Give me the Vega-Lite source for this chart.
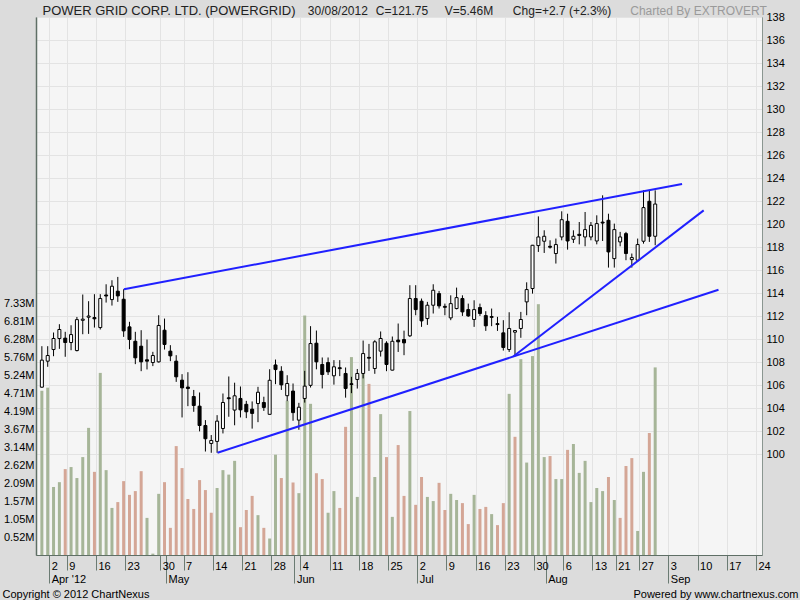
{
  "$schema": "https://vega.github.io/schema/vega-lite/v6.json",
  "width": 726,
  "height": 538,
  "autosize": {"type": "none"},
  "padding": {"left": 36, "top": 17, "right": 38, "bottom": 45},
  "background": "#dcdcdc",
  "config": {
    "view": {"fill": "#f5f5f5", "stroke": "#8a9690", "strokeWidth": 1},
    "axis": {"labelFont": "Liberation Sans", "labelFontSize": 11, "labelColor": "#000000", "titleFont": "Liberation Sans", "titleFontWeight": "normal", "titleFontSize": 11, "titleColor": "#000000"}
  },
  "datasets": {
    "candles": [
      {"i":-1,"date":"2012-03-30","o":105.84,"h":109.40,"l":105.80,"c":108.19,"v":4.78,"vd":"up"},
      {"i":0,"date":"2012-04-02","o":108.10,"h":109.40,"l":107.61,"c":108.59,"v":4.87,"vd":"up"},
      {"i":1,"date":"2012-04-03","o":109.11,"h":110.59,"l":108.53,"c":110.07,"v":1.98,"vd":"up"},
      {"i":2,"date":"2012-04-04","o":110.07,"h":111.31,"l":109.17,"c":110.85,"v":2.12,"vd":"up"},
      {"i":3,"date":"2012-04-09","o":110.10,"h":110.65,"l":108.48,"c":109.72,"v":2.50,"vd":"down"},
      {"i":4,"date":"2012-04-10","o":109.72,"h":111.22,"l":109.05,"c":110.41,"v":2.56,"vd":"up"},
      {"i":5,"date":"2012-04-11","o":109.02,"h":111.94,"l":108.95,"c":111.71,"v":2.24,"vd":"up"},
      {"i":6,"date":"2012-04-12","o":111.65,"h":113.89,"l":110.44,"c":111.75,"v":2.85,"vd":"up"},
      {"i":7,"date":"2012-04-13","o":111.92,"h":113.31,"l":110.47,"c":112.02,"v":3.70,"vd":"up"},
      {"i":8,"date":"2012-04-16","o":111.89,"h":113.92,"l":111.02,"c":111.78,"v":2.42,"vd":"down"},
      {"i":9,"date":"2012-04-17","o":111.02,"h":113.92,"l":110.85,"c":113.54,"v":5.30,"vd":"up"},
      {"i":10,"date":"2012-04-18","o":113.85,"h":114.78,"l":113.19,"c":113.76,"v":2.47,"vd":"up"},
      {"i":11,"date":"2012-04-19","o":113.45,"h":115.13,"l":112.93,"c":114.61,"v":1.37,"vd":"up"},
      {"i":12,"date":"2012-04-20","o":114.18,"h":115.42,"l":113.25,"c":113.77,"v":1.54,"vd":"down"},
      {"i":13,"date":"2012-04-23","o":113.48,"h":114.35,"l":110.21,"c":110.73,"v":2.15,"vd":"down"},
      {"i":14,"date":"2012-04-24","o":111.08,"h":111.52,"l":109.14,"c":109.98,"v":1.75,"vd":"down"},
      {"i":15,"date":"2012-04-25","o":109.83,"h":110.65,"l":107.84,"c":108.39,"v":1.86,"vd":"down"},
      {"i":16,"date":"2012-04-26","o":109.40,"h":110.79,"l":107.23,"c":108.04,"v":2.44,"vd":"down"},
      {"i":17,"date":"2012-04-27","o":108.22,"h":109.98,"l":107.38,"c":108.10,"v":1.08,"vd":"up"},
      {"i":18,"date":"2012-04-28","o":107.98,"h":108.91,"l":107.67,"c":108.59,"v":0.04,"vd":"up"},
      {"i":19,"date":"2012-04-30","o":108.04,"h":112.09,"l":107.98,"c":111.20,"v":1.78,"vd":"up"},
      {"i":20,"date":"2012-05-02","o":110.79,"h":111.80,"l":109.11,"c":109.55,"v":2.12,"vd":"down"},
      {"i":21,"date":"2012-05-03","o":108.97,"h":109.49,"l":108.10,"c":108.56,"v":0.79,"vd":"down"},
      {"i":22,"date":"2012-05-04","o":108.10,"h":108.62,"l":106.30,"c":106.74,"v":3.17,"vd":"down"},
      {"i":23,"date":"2012-05-07","o":106.45,"h":106.97,"l":103.21,"c":105.78,"v":2.53,"vd":"down"},
      {"i":24,"date":"2012-05-08","o":105.85,"h":107.14,"l":104.19,"c":105.72,"v":1.63,"vd":"down"},
      {"i":25,"date":"2012-05-09","o":105.03,"h":105.60,"l":103.70,"c":104.25,"v":1.34,"vd":"down"},
      {"i":26,"date":"2012-05-10","o":104.19,"h":105.38,"l":102.00,"c":102.51,"v":2.18,"vd":"down"},
      {"i":27,"date":"2012-05-11","o":102.51,"h":102.98,"l":100.25,"c":101.36,"v":1.89,"vd":"down"},
      {"i":28,"date":"2012-05-14","o":100.95,"h":101.68,"l":100.14,"c":101.21,"v":1.23,"vd":"down"},
      {"i":29,"date":"2012-05-15","o":101.13,"h":103.41,"l":100.14,"c":102.89,"v":1.95,"vd":"up"},
      {"i":30,"date":"2012-05-16","o":102.25,"h":105.29,"l":101.82,"c":104.51,"v":2.47,"vd":"up"},
      {"i":31,"date":"2012-05-17","o":104.92,"h":106.77,"l":103.27,"c":104.84,"v":2.34,"vd":"up"},
      {"i":32,"date":"2012-05-18","o":103.85,"h":106.23,"l":102.53,"c":105.09,"v":2.74,"vd":"up"},
      {"i":33,"date":"2012-05-21","o":104.86,"h":105.90,"l":103.21,"c":103.87,"v":0.81,"vd":"down"},
      {"i":34,"date":"2012-05-22","o":104.35,"h":104.65,"l":103.15,"c":103.70,"v":1.31,"vd":"down"},
      {"i":35,"date":"2012-05-23","o":103.93,"h":104.60,"l":102.24,"c":103.56,"v":1.72,"vd":"down"},
      {"i":36,"date":"2012-05-24","o":104.42,"h":105.87,"l":102.80,"c":105.40,"v":1.16,"vd":"up"},
      {"i":37,"date":"2012-05-25","o":104.51,"h":105.01,"l":103.78,"c":104.08,"v":0.79,"vd":"down"},
      {"i":38,"date":"2012-05-28","o":103.48,"h":107.40,"l":103.48,"c":106.44,"v":0.48,"vd":"up"},
      {"i":39,"date":"2012-05-29","o":107.77,"h":108.24,"l":106.10,"c":107.37,"v":2.92,"vd":"up"},
      {"i":40,"date":"2012-05-30","o":107.22,"h":107.66,"l":105.60,"c":106.04,"v":2.24,"vd":"down"},
      {"i":41,"date":"2012-05-31","o":105.10,"h":106.88,"l":104.63,"c":106.16,"v":4.49,"vd":"up"},
      {"i":42,"date":"2012-06-01","o":105.50,"h":106.16,"l":102.92,"c":103.63,"v":2.11,"vd":"down"},
      {"i":43,"date":"2012-06-04","o":102.98,"h":104.48,"l":102.14,"c":104.10,"v":1.80,"vd":"up"},
      {"i":44,"date":"2012-06-05","o":104.86,"h":107.26,"l":104.50,"c":105.93,"v":6.97,"vd":"up"},
      {"i":45,"date":"2012-06-06","o":106.00,"h":111.14,"l":105.81,"c":109.63,"v":4.40,"vd":"up"},
      {"i":46,"date":"2012-06-07","o":109.66,"h":110.76,"l":107.39,"c":108.04,"v":2.38,"vd":"down"},
      {"i":47,"date":"2012-06-08","o":107.81,"h":108.42,"l":105.73,"c":106.94,"v":2.21,"vd":"down"},
      {"i":48,"date":"2012-06-11","o":107.98,"h":108.42,"l":106.90,"c":107.17,"v":1.23,"vd":"up"},
      {"i":49,"date":"2012-06-12","o":106.83,"h":108.19,"l":106.06,"c":107.61,"v":1.86,"vd":"up"},
      {"i":50,"date":"2012-06-13","o":107.53,"h":108.19,"l":106.80,"c":107.45,"v":1.37,"vd":"down"},
      {"i":51,"date":"2012-06-14","o":107.03,"h":107.55,"l":104.93,"c":105.73,"v":3.73,"vd":"down"},
      {"i":52,"date":"2012-06-15","o":106.14,"h":106.74,"l":105.32,"c":106.07,"v":5.76,"vd":"up"},
      {"i":53,"date":"2012-06-18","o":106.51,"h":107.42,"l":105.72,"c":107.03,"v":1.69,"vd":"up"},
      {"i":54,"date":"2012-06-19","o":107.03,"h":109.89,"l":106.60,"c":108.76,"v":5.27,"vd":"up"},
      {"i":55,"date":"2012-06-20","o":108.43,"h":109.60,"l":107.25,"c":108.36,"v":4.98,"vd":"down"},
      {"i":56,"date":"2012-06-21","o":107.46,"h":109.92,"l":107.00,"c":109.78,"v":2.27,"vd":"up"},
      {"i":57,"date":"2012-06-22","o":108.97,"h":110.68,"l":108.50,"c":110.07,"v":4.10,"vd":"up"},
      {"i":58,"date":"2012-06-25","o":109.66,"h":109.83,"l":107.23,"c":107.81,"v":2.85,"vd":"down"},
      {"i":59,"date":"2012-06-26","o":107.32,"h":110.24,"l":107.30,"c":109.83,"v":1.11,"vd":"up"},
      {"i":60,"date":"2012-06-27","o":109.93,"h":111.37,"l":108.90,"c":109.78,"v":3.20,"vd":"down"},
      {"i":61,"date":"2012-06-28","o":109.98,"h":110.75,"l":108.62,"c":109.69,"v":1.72,"vd":"down"},
      {"i":62,"date":"2012-06-29","o":110.30,"h":114.70,"l":110.21,"c":113.54,"v":4.19,"vd":"up"},
      {"i":63,"date":"2012-07-02","o":113.54,"h":114.70,"l":112.09,"c":112.58,"v":1.46,"vd":"down"},
      {"i":64,"date":"2012-07-03","o":113.31,"h":113.54,"l":111.08,"c":111.60,"v":2.27,"vd":"down"},
      {"i":65,"date":"2012-07-04","o":111.80,"h":113.25,"l":111.25,"c":112.96,"v":1.69,"vd":"up"},
      {"i":66,"date":"2012-07-05","o":112.96,"h":114.78,"l":112.24,"c":114.26,"v":1.57,"vd":"up"},
      {"i":67,"date":"2012-07-06","o":113.97,"h":114.20,"l":112.67,"c":112.90,"v":2.10,"vd":"down"},
      {"i":68,"date":"2012-07-09","o":112.86,"h":113.10,"l":112.09,"c":112.78,"v":1.31,"vd":"down"},
      {"i":69,"date":"2012-07-10","o":111.86,"h":113.82,"l":111.66,"c":113.10,"v":1.78,"vd":"up"},
      {"i":70,"date":"2012-07-11","o":112.67,"h":114.49,"l":112.60,"c":113.62,"v":1.60,"vd":"up"},
      {"i":71,"date":"2012-07-12","o":113.54,"h":113.82,"l":112.03,"c":112.38,"v":1.51,"vd":"down"},
      {"i":72,"date":"2012-07-13","o":112.58,"h":113.10,"l":111.95,"c":112.03,"v":0.90,"vd":"down"},
      {"i":73,"date":"2012-07-16","o":111.72,"h":113.39,"l":111.08,"c":112.58,"v":1.75,"vd":"up"},
      {"i":74,"date":"2012-07-17","o":112.76,"h":113.10,"l":112.03,"c":112.24,"v":1.34,"vd":"down"},
      {"i":75,"date":"2012-07-18","o":112.06,"h":112.44,"l":110.73,"c":111.17,"v":1.40,"vd":"down"},
      {"i":76,"date":"2012-07-19","o":111.90,"h":112.67,"l":111.14,"c":111.98,"v":1.19,"vd":"up"},
      {"i":77,"date":"2012-07-20","o":111.36,"h":111.95,"l":110.73,"c":111.28,"v":0.87,"vd":"down"},
      {"i":78,"date":"2012-07-23","o":110.56,"h":111.66,"l":109.02,"c":109.29,"v":1.51,"vd":"down"},
      {"i":79,"date":"2012-07-24","o":109.11,"h":112.35,"l":108.90,"c":110.94,"v":4.69,"vd":"up"},
      {"i":80,"date":"2012-07-25","o":110.62,"h":110.80,"l":108.53,"c":110.76,"v":3.44,"vd":"down"},
      {"i":81,"date":"2012-07-26","o":110.94,"h":112.38,"l":110.13,"c":111.72,"v":5.70,"vd":"up"},
      {"i":82,"date":"2012-07-27","o":113.25,"h":114.95,"l":112.09,"c":114.32,"v":2.69,"vd":"up"},
      {"i":83,"date":"2012-07-30","o":114.41,"h":118.20,"l":113.97,"c":118.17,"v":5.79,"vd":"up"},
      {"i":84,"date":"2012-07-31","o":118.14,"h":120.68,"l":117.59,"c":118.89,"v":7.30,"vd":"up"},
      {"i":85,"date":"2012-08-01","o":118.52,"h":119.47,"l":117.50,"c":118.95,"v":2.85,"vd":"up"},
      {"i":86,"date":"2012-08-02","o":118.08,"h":118.60,"l":117.88,"c":118.00,"v":2.88,"vd":"down"},
      {"i":87,"date":"2012-08-03","o":117.45,"h":118.75,"l":116.58,"c":118.23,"v":2.21,"vd":"up"},
      {"i":88,"date":"2012-08-06","o":118.89,"h":121.12,"l":118.60,"c":120.39,"v":2.21,"vd":"up"},
      {"i":89,"date":"2012-08-07","o":120.25,"h":120.91,"l":117.79,"c":118.54,"v":3.06,"vd":"down"},
      {"i":90,"date":"2012-08-08","o":118.69,"h":119.47,"l":118.37,"c":118.95,"v":3.23,"vd":"up"},
      {"i":91,"date":"2012-08-09","o":119.12,"h":120.19,"l":118.25,"c":119.02,"v":2.39,"vd":"up"},
      {"i":92,"date":"2012-08-10","o":118.89,"h":121.06,"l":118.08,"c":119.53,"v":2.74,"vd":"up"},
      {"i":93,"date":"2012-08-13","o":118.89,"h":120.19,"l":118.60,"c":119.90,"v":1.54,"vd":"up"},
      {"i":94,"date":"2012-08-14","o":118.54,"h":120.77,"l":118.25,"c":120.05,"v":1.95,"vd":"up"},
      {"i":95,"date":"2012-08-16","o":120.18,"h":122.51,"l":118.54,"c":120.10,"v":1.86,"vd":"up"},
      {"i":96,"date":"2012-08-17","o":120.34,"h":120.91,"l":116.23,"c":117.59,"v":2.27,"vd":"down"},
      {"i":97,"date":"2012-08-21","o":117.01,"h":120.05,"l":116.23,"c":119.53,"v":1.60,"vd":"up"},
      {"i":98,"date":"2012-08-22","o":118.46,"h":119.33,"l":118.08,"c":118.89,"v":1.08,"vd":"down"},
      {"i":99,"date":"2012-08-23","o":119.18,"h":119.33,"l":116.87,"c":117.45,"v":2.59,"vd":"down"},
      {"i":100,"date":"2012-08-24","o":116.92,"h":117.45,"l":116.23,"c":117.10,"v":2.82,"vd":"down"},
      {"i":101,"date":"2012-08-27","o":116.87,"h":118.75,"l":116.72,"c":118.23,"v":0.70,"vd":"up"},
      {"i":102,"date":"2012-08-28","o":118.52,"h":122.94,"l":118.31,"c":121.44,"v":2.42,"vd":"up"},
      {"i":103,"date":"2012-08-29","o":121.99,"h":122.94,"l":118.46,"c":118.95,"v":3.55,"vd":"down"},
      {"i":104,"date":"2012-08-30","o":118.95,"h":122.94,"l":118.17,"c":121.75,"v":5.46,"vd":"up"}
    ],
    "trend": [
      {"line":"upper","i":13.05,"p":114.35},
      {"line":"upper","i":108.6,"p":123.5},
      {"line":"lower","i":29.07,"p":100.14},
      {"line":"lower","i":114.84,"p":114.3},
      {"line":"steep","i":79.7,"p":108.5},
      {"line":"steep","i":112.3,"p":121.2}
    ]
  },
  "layer": [
    {
      "data": {"name": "candles"},
      "mark": {"type": "bar", "width": 3, "clip": true},
      "encoding": {
        "x": {
          "field": "i", "type": "quantitative",
          "scale": {"domain": [-1.148, 121.43], "nice": false, "zero": false},
          "axis": {
            "orient": "bottom",
            "values": [0.25,3.25,8.25,13.25,19.25,20.25,23.25,28.25,33.25,38.25,42.25,43.25,48.25,53.25,58.25,63.25,68.25,73.25,78.25,83.25,85.25,88.25,93.25,97.25,101.25,106.25,111.25,116.25,121.25],
            "labelExpr": "[['2','9','16','23','30','','7','14','21','28','','4','11','18','25','2','9','16','23','30','','6','13','21','27','3','10','17','24'][indexof([0.25,3.25,8.25,13.25,19.25,20.25,23.25,28.25,33.25,38.25,42.25,43.25,48.25,53.25,58.25,63.25,68.25,73.25,78.25,83.25,85.25,88.25,93.25,97.25,101.25,106.25,111.25,116.25,121.25], datum.value)], [\"Apr '12\",'','','','','May','','','','','Jun','','','','','Jul','','','','','Aug','','','','','Sep','','',''][indexof([0.25,3.25,8.25,13.25,19.25,20.25,23.25,28.25,33.25,38.25,42.25,43.25,48.25,53.25,58.25,63.25,68.25,73.25,78.25,83.25,85.25,88.25,93.25,97.25,101.25,106.25,111.25,116.25,121.25], datum.value)]]",
            "labelAlign": "left",
            "labelBaseline": "top",
            "labelOffset": 2,
            "labelLineHeight": 13,
            "labelOverlap": false,
            "labelBound": false,
            "labelFlush": false,
            "tickSize": {"condition": {"test": "indexof([0.25,20.25,42.25,63.25,85.25,106.25], datum.value) >= 0", "value": 28}, "value": 15},
            "labelPadding": {"condition": {"test": "indexof([0.25,20.25,42.25,63.25,85.25,106.25], datum.value) >= 0", "value": -23}, "value": -10},
            "tickColor": "#6b7b73",
            "domainColor": "#5f6f66",
            "grid": true,
            "gridColor": "#e3e3e3",
            "gridOpacity": {"condition": {"test": "indexof([20.25,42.25,85.25], datum.value) >= 0", "value": 0}, "value": 1},
            "title": "Copyright © 2012 ChartNexus",
            "titleX": -34,
            "titleY": 42,
            "titleAlign": "left",
            "titleBaseline": "alphabetic",
            "titleAnchor": "start"
          }
        },
        "y": {
          "field": "v", "type": "quantitative",
          "scale": {"domain": [0, 15.658], "nice": false},
          "axis": {
            "orient": "left",
            "values": [0.5236,1.0472,1.5708,2.0944,2.618,3.1416,3.6652,4.1888,4.7124,5.236,5.7596,6.2832,6.8068,7.3304],
            "labelExpr": "format(datum.value, '.2f') + 'M'",
            "ticks": false,
            "labelPadding": 2,
            "domainColor": "#5f6f66",
            "domainWidth": 1.5,
            "grid": false,
            "title": "Powered by www.chartnexus.com",
            "titleAngle": 0,
            "titleX": 762,
            "titleY": 580,
            "titleAlign": "right",
            "titleBaseline": "alphabetic"
          }
        },
        "color": {
          "field": "vd", "type": "nominal",
          "scale": {"domain": ["up", "down"], "range": ["#a6b598", "#d4a696"]},
          "legend": null
        }
      }
    },
    {
      "data": {"name": "candles"},
      "mark": {"type": "rule", "color": "#000000", "strokeWidth": 1, "clip": true},
      "encoding": {
        "x": {"field": "i", "type": "quantitative", "scale": {"domain": [-1.148, 121.43], "nice": false, "zero": false}, "axis": null},
        "y": {
          "field": "l", "type": "quantitative",
          "scale": {"domain": [91.26, 138], "nice": false, "zero": false},
          "axis": {
            "orient": "right",
            "values": [100,102,104,106,108,110,112,114,116,118,120,122,124,126,128,130,132,134,136,138],
            "ticks": false,
            "labelPadding": 4,
            "domainColor": "#8a9690",
            "grid": true,
            "gridColor": "#e3e3e3",
            "labelOverlap": false,
            "labelBound": false,
            "labelFlush": false,
            "title": null
          }
        },
        "y2": {"field": "h"}
      }
    },
    {
      "data": {"name": "candles"},
      "mark": {"type": "bar", "width": 3, "stroke": "#000000", "strokeWidth": 1, "clip": true},
      "encoding": {
        "x": {"field": "i", "type": "quantitative", "scale": {"domain": [-1.148, 121.43], "nice": false, "zero": false}, "axis": null},
        "y": {"field": "o", "type": "quantitative", "scale": {"domain": [91.26, 138], "nice": false, "zero": false}, "axis": null},
        "y2": {"field": "c"},
        "fill": {"condition": {"test": "datum.c >= datum.o", "value": "#ffffff"}, "value": "#000000"}
      }
    },
    {
      "data": {"name": "trend"},
      "mark": {"type": "line", "color": "#2020ff", "strokeWidth": 2, "clip": true},
      "encoding": {
        "x": {
          "field": "i", "type": "quantitative",
          "scale": {"domain": [-1.148, 121.43], "nice": false, "zero": false},
          "axis": {
            "orient": "top",
            "values": [-0.98, 44.44, 56.09, 67.9, 79.55, 99.65],
            "labelExpr": "datum.value < 0 ? 'POWER GRID CORP. LTD. (POWERGRID)' : datum.value < 50 ? '30/08/2012' : datum.value < 60 ? 'C=121.75' : datum.value < 70 ? 'V=5.46M' : datum.value < 90 ? 'Chg=+2.7 (+2.3%)' : 'Charted By EXTROVERT'",
            "labelFont": "Liberation Sans",
            "labelFontSize": {"condition": {"test": "datum.value < 0", "value": 13}, "value": 12},
            "labelColor": {"condition": {"test": "datum.value > 90", "value": "#9a9a9a"}, "value": "#222222"},
            "labelLimit": 0,
            "labelAlign": "left",
            "labelBaseline": "alphabetic",
            "labelPadding": 3,
            "ticks": false,
            "domain": false,
            "grid": false,
            "labelOverlap": false,
            "labelBound": false,
            "labelFlush": false,
            "title": null
          }
        },
        "y": {"field": "p", "type": "quantitative", "scale": {"domain": [91.26, 138], "nice": false, "zero": false}, "axis": null},
        "detail": {"field": "line", "type": "nominal"}
      }
    }
  ],
  "resolve": {"scale": {"y": "independent"}, "axis": {"x": "independent", "y": "independent"}}
}
